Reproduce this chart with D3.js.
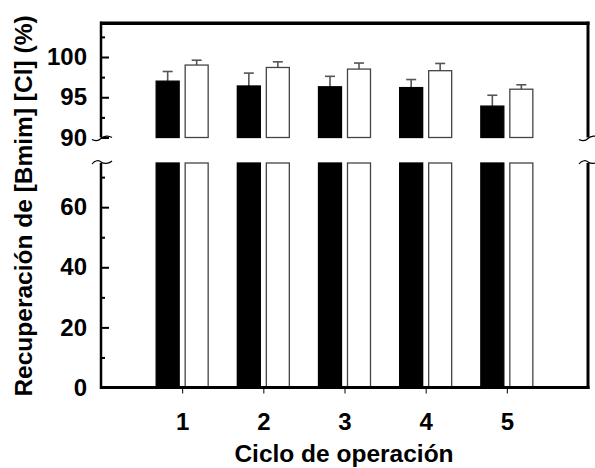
<!DOCTYPE html>
<html lang="es">
<head>
<meta charset="UTF-8">
<title>Recuperación de [Bmim] [Cl]</title>
<script src="https://d3js.org/d3.v7.min.js"></script>
<style>
  body { margin: 0; background: #fff; }
  text { font-family: "Liberation Sans", Arial, Helvetica, sans-serif; font-weight: bold; }
</style>
</head>
<body>
<div id="chart"></div>
<script>
// data
var cycles = [1, 2, 3, 4, 5];
var darkVals = [97.0, 96.4, 96.3, 96.2, 93.9];
var darkErr = [1.2, 1.6, 1.3, 1.0, 1.35];
var lightVals = [99.0, 98.7, 98.5, 98.3, 96.0];
var lightErr = [0.6, 0.7, 0.75, 0.9, 0.55];
var upperTicks = [90, 95, 100];
var upperMinor = [92.5, 97.5, 102.5];
var lowerTicks = [0, 20, 40, 60];
var lowerMinor = [10, 30, 50, 70];

var width = 595, height = 468;
var left = 101, right = 588;

var svg = d3.select("#chart").append("svg")
  .attr("width", width)
  .attr("height", height);

var x = d3.scaleLinear().domain([0, 6]).range([left, right]);
// broken y axis: two scales
var yTop = d3.scaleLinear().domain([90, 104.2]).range([137.5, 23.2]);
var yBot = d3.scaleLinear().domain([0, 74.7]).range([387.5, 163]);

var barW = 23, off = 14.5;

var rows = cycles.map(function(c, i) {
  return [
    { c: c, v: darkVals[i], e: darkErr[i], dx: -off, fill: "#000" },
    { c: c, v: lightVals[i], e: lightErr[i], dx: off, fill: "#fff" }
  ];
}).flat();

// lower part of bars (full height, cut at the break)
svg.selectAll(".barLow").data(rows).enter().append("rect")
  .attr("x", function(d) { return x(d.c) + d.dx - barW / 2; })
  .attr("y", yBot(74.7))
  .attr("width", barW)
  .attr("height", yBot(0) - yBot(74.7))
  .attr("fill", function(d) { return d.fill; })
  .attr("stroke", function(d) { return d.fill == "#000" ? "#000" : "#444"; })
  .attr("stroke-width", 1.3);

// error bars (upward only)
var err = svg.selectAll(".err").data(rows).enter().append("g")
  .attr("stroke", "#555").attr("stroke-width", 1.6);
err.append("line")
  .attr("x1", function(d) { return x(d.c) + d.dx; })
  .attr("x2", function(d) { return x(d.c) + d.dx; })
  .attr("y1", function(d) { return yTop(d.v); })
  .attr("y2", function(d) { return yTop(d.v + d.e); });
err.append("line")
  .attr("x1", function(d) { return x(d.c) + d.dx - 5; })
  .attr("x2", function(d) { return x(d.c) + d.dx + 5; })
  .attr("y1", function(d) { return yTop(d.v + d.e); })
  .attr("y2", function(d) { return yTop(d.v + d.e); });

// upper part of bars
svg.selectAll(".barUp").data(rows).enter().append("rect")
  .attr("x", function(d) { return x(d.c) + d.dx - barW / 2; })
  .attr("y", function(d) { return yTop(d.v); })
  .attr("width", barW)
  .attr("height", function(d) { return yTop(90) - yTop(d.v); })
  .attr("fill", function(d) { return d.fill; })
  .attr("stroke", function(d) { return d.fill == "#000" ? "#000" : "#444"; })
  .attr("stroke-width", 1.3);

// y axes
function styleAxis(g) {
  g.select(".domain").remove();
  g.selectAll(".tick line").attr("stroke-width", 2);
  g.selectAll(".tick text").style("font-size", "24px").attr("fill", "#000");
}
svg.append("g").attr("transform", "translate(" + left + ",0)")
  .call(d3.axisLeft(yTop).tickValues(upperTicks).tickSize(-8).tickPadding(14))
  .call(styleAxis);
svg.append("g").attr("transform", "translate(" + left + ",0)")
  .call(d3.axisLeft(yBot).tickValues(lowerTicks).tickSize(-8).tickPadding(14))
  .call(styleAxis);
svg.append("g").attr("transform", "translate(" + left + ",0)")
  .call(d3.axisLeft(yTop).tickValues(upperMinor).tickSize(-4).tickFormat(""))
  .call(styleAxis);
svg.append("g").attr("transform", "translate(" + left + ",0)")
  .call(d3.axisLeft(yBot).tickValues(lowerMinor).tickSize(-4).tickFormat(""))
  .call(styleAxis);

// x axis
var xg = svg.append("g").attr("transform", "translate(0," + yBot(0) + ")")
  .call(d3.axisBottom(x).tickValues(cycles).tickFormat(d3.format("d")).tickSize(6).tickPadding(19));
xg.select(".domain").remove();
xg.selectAll(".tick text").style("font-size", "24px").attr("fill", "#000");

// frame lines
var frame = svg.append("g").attr("stroke", "#000").attr("fill", "none");
frame.append("line").attr("x1", left).attr("x2", left).attr("y1", yTop.range()[1] - 1.5).attr("y2", yTop(90)).attr("stroke-width", 2.5);
frame.append("line").attr("x1", left).attr("x2", left).attr("y1", yBot.range()[1]).attr("y2", yBot(0) + 1.5).attr("stroke-width", 2.5);
frame.append("line").attr("x1", right).attr("x2", right).attr("y1", yTop.range()[1] - 1.5).attr("y2", yTop(90)).attr("stroke-width", 3);
frame.append("line").attr("x1", right).attr("x2", right).attr("y1", yBot.range()[1]).attr("y2", yBot(0) + 1.5).attr("stroke-width", 3);
frame.append("line").attr("x1", left - 1).attr("x2", right + 1.5).attr("y1", yTop.range()[1]).attr("y2", yTop.range()[1]).attr("stroke-width", 3.5);
frame.append("line").attr("x1", left - 1).attr("x2", right + 1.5).attr("y1", yBot(0)).attr("y2", yBot(0)).attr("stroke-width", 3);

// break squiggles
function squiggleLow(cx, cy) {
  return "M" + (cx - 9) + "," + (cy + 1) + " C" + (cx - 5) + "," + (cy + 3) + " " + (cx - 2) + "," + (cy + 2) + " " + cx + "," + cy +
    " C" + (cx + 3) + "," + (cy - 3) + " " + (cx + 8) + "," + (cy - 3) + " " + (cx + 11) + "," + (cy - 1);
}
function squiggleHigh(cx, cy) {
  return "M" + (cx - 9) + "," + (cy + 2) + " C" + (cx - 6) + "," + (cy - 2) + " " + (cx - 2) + "," + (cy - 2) + " " + cx + "," + cy +
    " C" + (cx + 3) + "," + (cy + 2) + " " + (cx + 8) + "," + (cy + 2) + " " + (cx + 11) + "," + (cy - 1);
}
[left, right].forEach(function(px) {
  frame.append("path").attr("d", squiggleLow(px, yTop(90) + 1)).attr("stroke-width", 1.2);
  frame.append("path").attr("d", squiggleHigh(px, yBot.range()[1] - 1)).attr("stroke-width", 1.2);
});

// axis titles
svg.append("text")
  .attr("transform", "translate(32,206) rotate(-90)")
  .attr("text-anchor", "middle")
  .style("font-size", "24.5px")
  .text("Recuperación de [Bmim] [Cl] (%)");
svg.append("text")
  .attr("x", 344).attr("y", 462)
  .attr("text-anchor", "middle")
  .style("font-size", "24.5px")
  .text("Ciclo de operación");
</script>
</body>
</html>
